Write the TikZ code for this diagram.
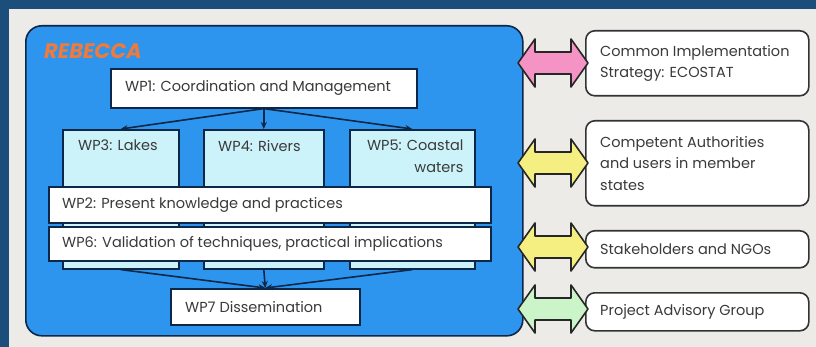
\documentclass[tikz,border=0pt]{standalone}
\usepackage{fontspec}
\setmainfont{Poppins}
\usetikzlibrary{arrows.meta}
\definecolor{framedark}{HTML}{1B4E7A}
\definecolor{paper}{HTML}{ECEBE8}
\definecolor{projblue}{HTML}{2E95EE}
\definecolor{navy}{HTML}{0C2748}
\definecolor{lanecyan}{HTML}{CDF3FA}
\definecolor{inktext}{HTML}{3A3A3A}
\definecolor{rebeccaorange}{HTML}{EE7A3C}
\definecolor{linkpink}{HTML}{F593C4}
\definecolor{linkyellow}{HTML}{F5EE80}
\definecolor{linkgreen}{HTML}{CBF5C8}
\begin{document}
\begin{tikzpicture}
[x=1pt,y=-1pt,
  wpdecorate/.style={shape=rectangle,draw=navy,line width=1.6pt,fill=white,inner sep=0pt,anchor=north west},
  lanedecorate/.style={wpdecorate,fill=lanecyan},
  textdecorate/.style={anchor=west,inner sep=0pt,text=inktext,font=\fontsize{14.5}{21.5}\selectfont},
  partnerdecorate/.style={shape=rectangle,rounded corners=9pt,draw=black!80,line width=1.6pt,fill=white,inner sep=0pt,anchor=north west,minimum width=223pt},
  edgedecorate/.style={-{Stealth[length=7pt,width=6pt]},line width=1.6pt,draw=navy},
  pics/linkarrow/.style={code={
    \draw[line width=1.6pt,draw=black!85,fill=#1,line join=round]
      (-35,0) -- (-18,-24) -- (-18,-11) -- (18,-11) -- (18,-24) -- (35,0)
      -- (18,24) -- (18,11) -- (-18,11) -- (-18,24) -- cycle;}}]
%% page and frame
\fill[framedark] (0,0) rectangle (816,347);
\fill[paper] (9,9) rectangle (816,347);
\useasboundingbox (0,0) rectangle (816,347);
\node (rebecca) at (25,25) [draw=navy,fill=projblue,line width=1.6pt,rounded corners=16pt,
  minimum width=497pt,minimum height=310pt,anchor=north west] {};
\node (title) at (44,51) [anchor=west,inner sep=0pt,text=rebeccaorange,
  font=\bfseries\itshape\fontsize{21}{24}\selectfont] {REBECCA};
%% work packages
\node (wp1) at (110,68) [wpdecorate,minimum width=306pt,minimum height=39pt] {};
\node [textdecorate] at ([xshift=15pt]wp1.west) {WP1: Coordination and Management};
\foreach \nodename/\x/\w in {wp3/62/116, wp4/203/120, wp5/349/125}
{
  \node (\nodename) at (\x,129) [lanedecorate,minimum width=\w pt,minimum height=139pt] {};
}
\node [textdecorate,anchor=north west] at ([shift={(16,11)}]wp3.north west) {WP3: Lakes};
\node [textdecorate,anchor=north west] at ([shift={(15,11)}]wp4.north west) {WP4: Rivers};
\node [textdecorate,anchor=north east,align=right] at ([shift={(-12,11)}]wp5.north east)
  {WP5: Coastal\\waters};
\foreach \nodename/\y/\h/\wptext in {
  wp2/186/36/{WP2: Present knowledge and practices},
  wp6/226/34/{WP6: Validation of techniques, practical implications}}
{
  \node (\nodename) at (48,\y) [wpdecorate,minimum width=442pt,minimum height=\h pt] {};
  \node [textdecorate] at ([xshift=14pt]\nodename.west) {\wptext};
}
\node (wp7) at (170,288) [wpdecorate,minimum width=189pt,minimum height=36pt] {};
\node [textdecorate] at ([xshift=15pt]wp7.west) {WP7 Dissemination};
%% edges between work packages
\path
\foreach \startnode/\endnode in {wp1.south/wp3.north, wp1.south/wp4.north,
  wp1.south/wp5.north, wp3.south/wp7.north, wp4.south/wp7.north, wp5.south/wp7.north}
{
  (\startnode) edge[edgedecorate] (\endnode)
};
%% partners and links
\foreach \nodename/\y/\h/\partnertext in {
  ca1/30/65/{Common Implementation\\Strategy: ECOSTAT},
  ca2/120/85/{Competent Authorities\\and users in member\\states},
  ca3/230/37/{Stakeholders and NGOs},
  ca4/292/38/{Project Advisory Group}}
{
  \node (\nodename) at (585,\y) [partnerdecorate,minimum height=\h pt] {};
  \node [textdecorate,align=left] at ([xshift=15pt]\nodename.west) {\partnertext};
}
\foreach \nodename/\y/\fillcolour in {link1/63/linkpink, link2/163/linkyellow,
  link3/247/linkyellow, link4/309/linkgreen}
{
  \pic (\nodename) at (553,\y) {linkarrow=\fillcolour};
}
\end{tikzpicture}
\end{document}
